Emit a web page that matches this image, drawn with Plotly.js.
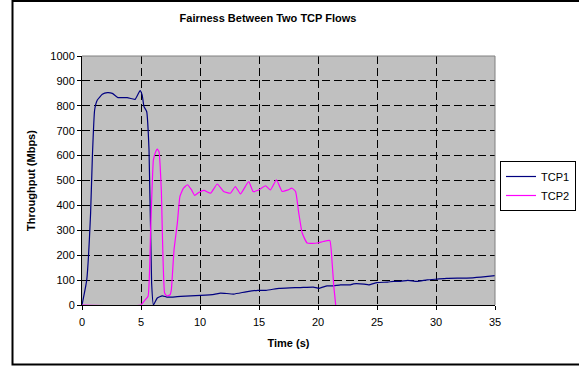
<!DOCTYPE html>
<html>
<head>
<meta charset="utf-8">
<script src="https://cdn.plot.ly/plotly-3.0.1.min.js"></script>
<style>html,body{margin:0;padding:0;background:#fff;}#chart{width:579px;height:368px;}</style>
</head>
<body>
<div id="chart"></div>
<script>
// TCP1 samples (time in s, throughput in Mbps)
var tcp1Time = [0, 0.4, 0.73, 0.88, 1.07, 1.3, 1.72, 2.15, 2.57, 3.05,
  3.84, 4.5, 4.92, 5.1, 5.25, 5.48, 5.68, 5.9, 6.05, 6.38,
  6.8, 7.2, 7.65, 8.36, 9.2, 10.05, 11.2, 11.74, 12.86, 13.9,
  14.9, 15.6, 16.7, 17.6, 18.5, 19.6, 20.1, 20.77, 21.3, 21.9,
  22.75, 23.0, 23.9, 24.3, 25.0, 25.9, 26.4, 27.0, 27.6, 28.4,
  29.25, 30.1, 30.9, 31.8, 32.6, 33.8, 35];
var tcp1Mbps = [0, 100, 370, 596, 783, 823, 846, 853, 850, 833,
  833, 826, 861, 843, 797, 777, 623, 88, 0, 28,
  37, 32, 32, 35, 37, 39, 43, 48, 44, 53,
  59, 59, 67, 69, 70, 72, 67, 77, 77, 81,
  81, 85, 84, 81, 90, 92, 95, 95, 99, 95,
  101, 104, 107, 108, 108, 112, 118];

// TCP2 samples
var tcp2Time = [0, 4.97, 5.3, 5.6, 5.82, 6.05, 6.2, 6.38, 6.53, 6.72, 7.0,
  7.18, 7.46, 7.57, 7.8, 8.08, 8.3, 8.6, 8.93, 9.27, 9.55,
  9.9, 10.34, 10.9, 11.46, 12.0, 12.58, 13.0, 13.43, 14.13, 14.5,
  14.97, 15.55, 15.97, 16.48, 16.96, 17.44, 17.8, 18.1, 18.37, 18.66,
  19.08, 19.93, 20.44, 21.0, 21.2, 21.34, 21.5];
var tcp2Mbps = [0, 0, 18, 35, 309, 583, 610, 626, 615, 463, 48,
  37, 41, 61, 222, 329, 436, 469, 483, 463, 440,
  452, 460, 449, 486, 456, 449, 476, 446, 496, 456,
  462, 479, 462, 503, 456, 462, 469, 456, 369, 289,
  249, 249, 255, 259, 168, 75, 0];

var xTicks = [0, 5, 10, 15, 20, 25, 30, 35];
var yTicks = [0, 100, 200, 300, 400, 500, 600, 700, 800, 900, 1000];

var FONT = "Liberation Sans, Arial, sans-serif";

var traces = [
  {x: tcp1Time, y: tcp1Mbps, name: "TCP1", type: "scatter", mode: "lines",
   line: {color: "#000080", width: 1.2, shape: "spline", smoothing: 0.4}},
  {x: tcp2Time, y: tcp2Mbps, name: "TCP2", type: "scatter", mode: "lines",
   line: {color: "#FF00FF", width: 1.2, shape: "spline", smoothing: 0.4}}
];

var L = 82, R = 84, T = 56, B = 63, W = 579, H = 368;
var pw = W - L - R, ph = H - T - B;
function px(x) { return (x - L) / pw; }
function py(y) { return (H - B - y) / ph; }

var layout = {
  width: W, height: H,
  margin: {l: L, r: R, t: T, b: B, pad: 0, autoexpand: false},
  paper_bgcolor: "#ffffff",
  plot_bgcolor: "#C0C0C0",
  font: {family: FONT, size: 11, color: "#000"},
  title: {text: "<b>Fairness Between Two TCP Flows</b>", font: {family: FONT, size: 11, color: "#000"},
          x: px(268), xref: "paper", xanchor: "center", y: 1 - 18 / H, yref: "container", yanchor: "middle"},
  xaxis: {
    range: [0, 35], tickvals: xTicks, ticktext: xTicks.map(String),
    showgrid: true, gridcolor: "#000", gridwidth: 1, griddash: "8px,4px",
    showline: true, linecolor: "#000", linewidth: 1, layer: "below traces",
    ticks: "outside", ticklen: 4, tickcolor: "#000",
    ticklabelstandoff: 3,
    zeroline: false, fixedrange: true,
    tickfont: {family: FONT, size: 11},
    title: {text: "<b>Time (s)</b>", font: {family: FONT, size: 11}, standoff: 12}
  },
  yaxis: {
    range: [0, 1000], tickvals: yTicks, ticktext: yTicks.map(String),
    showgrid: true, gridcolor: "#000", gridwidth: 1, griddash: "8px,4px",
    showline: true, linecolor: "#000", linewidth: 1, layer: "below traces",
    ticks: "outside", ticklen: 4, tickcolor: "#000",
    zeroline: false, fixedrange: true,
    tickfont: {family: FONT, size: 11},
    title: {text: "<b>Throughput (Mbps)</b>", font: {family: FONT, size: 11}, standoff: 12}
  },
  showlegend: true,
  legend: {
    xref: "container", yref: "container",
    x: 576 / W, y: 1 - 161 / H, xanchor: "right", yanchor: "top",
    bgcolor: "#fff", bordercolor: "#000", borderwidth: 1,
    itemwidth: 30, tracegroupgap: 0,
    font: {family: FONT, size: 11}
  },
  shapes: [
    {type: "path", xref: "paper", yref: "paper", path: "M 0 1 L 1 1 L 1 0",
     line: {color: "#808080", width: 1}, layer: "above"},
    {type: "rect", xref: "paper", yref: "paper",
     x0: px(12.5), x1: px(620), y0: py(364.5), y1: py(1),
     line: {color: "#000", width: 2}, fillcolor: "rgba(0,0,0,0)", layer: "above"}
  ]
};

Plotly.newPlot("chart", traces, layout, {displayModeBar: false, staticPlot: true});
</script>
</body>
</html>
